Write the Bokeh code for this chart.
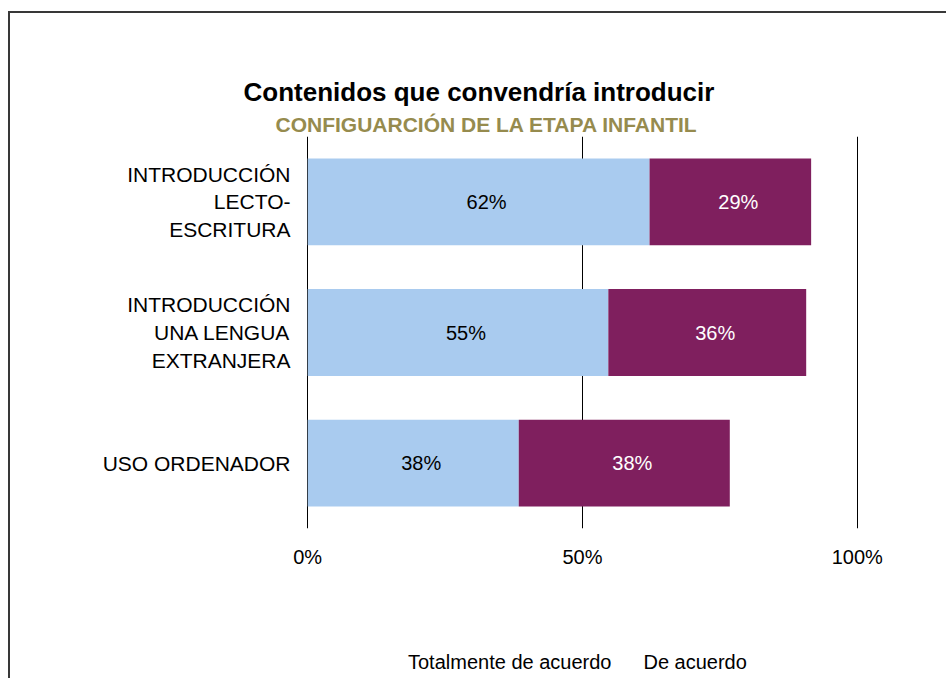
from bokeh.plotting import figure
from bokeh.models import (ColumnDataSource, FactorRange, Range1d, FixedTicker,
                          Legend, LegendItem, Title, LinearAxis)
from bokeh.core.properties import value
from bokeh.embed import file_html
from bokeh.resources import INLINE

# ---------------- data ----------------
categories = ["INTRODUCCIÓN\nLECTO-\nESCRITURA",
              "INTRODUCCIÓN\nUNA LENGUA\nEXTRANJERA",
              "USO ORDENADOR"]
totalmente = [62.2, 54.7, 38.4]
de_acuerdo = [29.4, 36.0, 38.4]
series_names = ["Totalmente de acuerdo", "De acuerdo"]
x_ticks = [0, 50, 100]
x_tick_labels = ["0%", "50%", "100%"]
title_text = "Contenidos que convendría introducir"
subtitle_text = "CONFIGUARCIÓN DE LA ETAPA INFANTIL"

# ---------------- style ----------------
FONT_NAME = "Liberation Sans"
FONT = value(FONT_NAME)
BLUE = "#A9CBEF"
PURPLE = "#7F1F5E"
OLIVE = "#968B4E"
COLORS = [BLUE, PURPLE]

src = ColumnDataSource(dict(cat=categories, tot=totalmente, de=de_acuerdo))

p = figure(width=936, height=665, frame_width=554, frame_height=392,
           output_backend="svg", toolbar_location=None,
           y_range=FactorRange(factors=list(reversed(categories))),
           x_range=Range1d(-0.4, 100.4),
           min_border_left=295, min_border_right=87,
           min_border_top=123, min_border_bottom=150)
p.outline_line_color = None
p.background_fill_color = "white"
p.border_fill_color = "white"
p.styles = {"border-left": "2px solid #383838", "border-top": "2px solid #383838",
            "margin-top": "11px", "margin-left": "8px"}

renderers = p.hbar_stack(["tot", "de"], y="cat", height=0.665,
                         color=COLORS, line_color=None, source=src)

# data labels
lab1 = ColumnDataSource(dict(
    x=[t / 2 for t in totalmente], y=categories,
    text=[f"{round(t)}%" for t in totalmente]))
lab2 = ColumnDataSource(dict(
    x=[t + d / 2 for t, d in zip(totalmente, de_acuerdo)], y=categories,
    text=[f"{round(d)}%" for d in de_acuerdo]))
p.text(x="x", y="y", text="text", source=lab1, text_align="center",
       text_baseline="middle", text_font=FONT, text_font_size="20px",
       text_color="black", x_offset=8)
p.text(x="x", y="y", text="text", source=lab2, text_align="center",
       text_baseline="middle", text_font=FONT, text_font_size="20px",
       text_color="white", x_offset=8)

# grid
p.xgrid.ticker = FixedTicker(ticks=x_ticks)
p.xgrid.grid_line_color = "black"
p.xgrid.grid_line_width = 1
p.ygrid.grid_line_color = None

# axes
p.xaxis.ticker = FixedTicker(ticks=x_ticks)
p.xaxis.major_label_overrides = dict(zip(x_ticks, x_tick_labels))
for ax in (p.xaxis, p.yaxis):
    ax.axis_line_color = None
    ax.major_tick_line_color = None
    ax.minor_tick_line_color = None
    ax.major_label_text_font = FONT_NAME
    ax.major_label_text_color = "black"
p.xaxis.major_label_text_font_size = "20px"
p.yaxis.major_label_text_font_size = "21px"
p.xaxis.major_label_standoff = 11
p.yaxis.major_label_standoff = 9

# empty spacer axis above the frame: keeps the subtitle clear of the bars
p.add_layout(LinearAxis(ticker=FixedTicker(ticks=[]), axis_line_color=None,
                        major_tick_line_color=None, minor_tick_line_color=None,
                        major_tick_out=45, major_label_standoff=0), "above")
p.add_layout(Title(text=subtitle_text, text_font=FONT_NAME, text_font_size="21px",
                   text_font_style="bold", text_color=OLIVE, align="left",
                   vertical_align="middle", offset=-30, standoff=0), "above")
p.add_layout(Title(text=title_text, text_font=FONT_NAME, text_font_size="26px",
                   text_font_style="bold", text_color="black", align="left",
                   vertical_align="middle", offset=-62, standoff=8), "above")

# legend: a small transparent figure overlaid on the bottom of the chart
lg = figure(width=400, height=36, output_backend="svg", toolbar_location=None,
            x_axis_type=None, y_axis_type=None, min_border=0)
lg.outline_line_color = None
lg.background_fill_color = None
lg.border_fill_color = None
lg.grid.visible = False
lg.styles = {"margin-top": "-38px", "margin-left": "380px"}
swatches = [lg.hbar(y=[], left=[], right=[], height=1, color=c, line_color=None)
            for c in COLORS]
legend = Legend(items=[LegendItem(label=series_names[i], renderers=[swatches[i]])
                       for i in range(2)],
                orientation="horizontal", location=(10, 2),
                label_text_font=FONT_NAME, label_text_font_size="20px",
                label_text_color="black",
                glyph_width=13, glyph_height=13, label_standoff=5, spacing=14,
                padding=0, margin=0, border_line_color=None,
                background_fill_alpha=0)
lg.add_layout(legend)

open("out.html", "w").write(file_html([p, lg], INLINE))
